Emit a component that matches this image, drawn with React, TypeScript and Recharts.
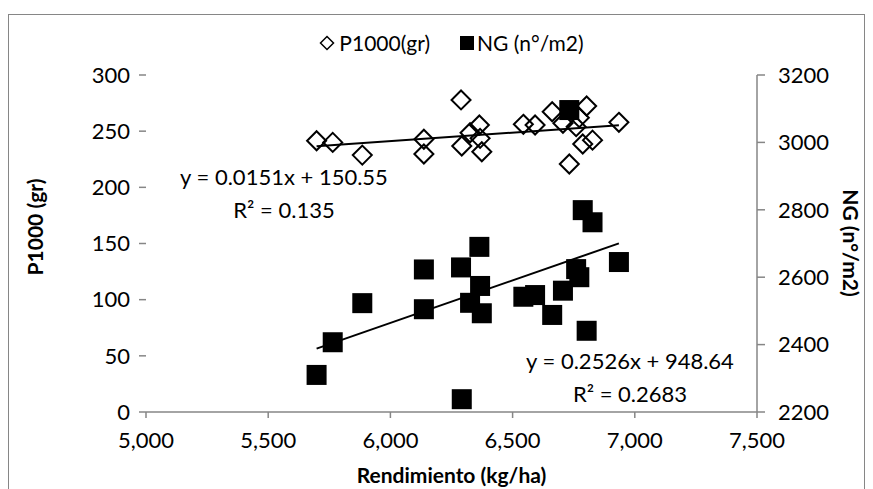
import React from 'react';
import { ScatterChart, Scatter, XAxis, YAxis, Legend, Label, Customized } from 'recharts';

const rendimiento = [5698, 5764, 5885, 6137, 6137, 6289, 6292, 6326, 6364, 6367, 6374, 6544, 6592, 6662, 6706, 6732, 6760, 6773, 6787, 6803, 6827, 6935];
const p1000 = [241.5, 240, 228.7, 242.8, 229.7, 277.8, 236.8, 248.6, 255.5, 243.6, 231.7, 256.1, 255.5, 267.3, 257, 220.8, 254, 262, 238.6, 272.4, 242, 257.9];
const ng = [2310, 2407, 2523, 2623, 2505, 2629, 2238, 2524, 2690, 2574, 2493, 2542, 2547, 2488, 2560, 3096, 2624, 2600, 2799, 2441, 2763, 2645];

const xTicks = [5000, 5500, 6000, 6500, 7000, 7500];
const leftTicks = [0, 50, 100, 150, 200, 250, 300];
const rightTicks = [2200, 2400, 2600, 2800, 3000, 3200];

const pTrend = { slope: 0.0151, intercept: 150.55, r2: '0.135' };
const ngTrend = { slope: 0.2526, intercept: 948.64, r2: '0.2683' };
const trendRange = [5698, 6935];

const pData = rendimiento.map((x, i) => ({ x, y: p1000[i] }));
const ngData = rendimiento.map((x, i) => ({ x, y: ng[i] }));
const pTrendData = trendRange.map((x) => ({ x, y: pTrend.slope * x + pTrend.intercept }));
const ngTrendData = trendRange.map((x) => ({ x, y: ngTrend.slope * x + ngTrend.intercept }));

const FONT = 'Lato, "Open Sans", sans-serif';
const AXIS_GREY = '#868686';
const TICK_FS = 22;

const Diamond = (props: any) => {
  const { cx, cy } = props;
  if (cx == null || cy == null) return <g />;
  const r = 9.5;
  return (
    <polygon
      points={`${cx},${cy - r} ${cx + r},${cy} ${cx},${cy + r} ${cx - r},${cy}`}
      fill="none"
      stroke="#000"
      strokeWidth={2}
    />
  );
};

const Square = (props: any) => {
  const { cx, cy } = props;
  if (cx == null || cy == null) return <g />;
  return <rect x={cx - 10} y={cy - 10} width={20} height={20} fill="#000" />;
};

const NoShape = () => <g />;

const LegendContent = () => (
  <div
    style={{
      display: 'flex',
      justifyContent: 'center',
      alignItems: 'center',
      fontFamily: FONT,
      fontSize: 21,
      color: '#000',
      whiteSpace: 'nowrap',
    }}
  >
    <svg width={16} height={16} style={{ marginRight: 4 }}>
      <polygon points="8,1.5 14.5,8 8,14.5 1.5,8" fill="none" stroke="#000" strokeWidth={1.5} />
    </svg>
    <span style={{ marginRight: 30 }}>P1000(gr)</span>
    <svg width={14} height={14} style={{ marginRight: 3 }}>
      <rect x={0} y={0} width={14} height={14} fill="#000" />
    </svg>
    <span>NG (n°/m2)</span>
  </div>
);

const fmtThousands = (v: number) => v.toLocaleString('en-US');

const Equations = () => (
  <g fontFamily={FONT} fontSize={22} fill="#000">
    <text x={276} y={168} textAnchor="middle" dominantBaseline="central">
      {`y = ${pTrend.slope}x + ${pTrend.intercept}`}
    </text>
    <text x={276} y={201} textAnchor="middle" dominantBaseline="central">
      {`R² = ${pTrend.r2}`}
    </text>
    <text x={622} y={352} textAnchor="middle" dominantBaseline="central">
      {`y = ${ngTrend.slope}x + ${ngTrend.intercept}`}
    </text>
    <text x={622} y={385} textAnchor="middle" dominantBaseline="central">
      {`R² = ${ngTrend.r2}`}
    </text>
  </g>
);

export default function App() {
  return (
    <div style={{ position: 'relative', width: 865, height: 481, overflow: 'hidden', background: '#fff' }}>
      <div
        style={{
          position: 'absolute',
          left: 0,
          top: 6,
          width: 857,
          height: 600,
          border: `1px solid ${AXIS_GREY}`,
          boxSizing: 'border-box',
        }}
      />
      <ScatterChart width={865} height={481} margin={{ top: 67, right: 0, bottom: 0, left: 0 }}>
        <XAxis
          type="number"
          dataKey="x"
          domain={[5000, 7500]}
          ticks={xTicks}
          tickFormatter={fmtThousands}
          axisLine={{ stroke: AXIS_GREY, strokeWidth: 1.5 }}
          tickLine={{ stroke: AXIS_GREY, strokeWidth: 1.5 }}
          tickSize={6}
          tickMargin={14}
          height={77}
          tick={{ fill: '#000', fontSize: TICK_FS, fontFamily: FONT }}
          allowDataOverflow
        >
          <Label
            content={(props: any) => {
              const vb = props.viewBox || {};
              return (
                <text
                  x={vb.x + vb.width / 2}
                  y={vb.y + 62}
                  textAnchor="middle"
                  dominantBaseline="central"
                  fontFamily={FONT}
                  fontSize={21}
                  fontWeight="bold"
                  fill="#000"
                >
                  Rendimiento (kg/ha)
                </text>
              );
            }}
          />
        </XAxis>
        <YAxis
          yAxisId="left"
          type="number"
          dataKey="y"
          domain={[0, 300]}
          ticks={leftTicks}
          width={138}
          axisLine={false}
          tickLine={{ stroke: AXIS_GREY, strokeWidth: 1.5 }}
          tickSize={7}
          tickMargin={9}
          tick={{ fill: '#000', fontSize: TICK_FS, fontFamily: FONT }}
          allowDataOverflow
        >
          <Label
            content={() => {
              const cx = 26;
              const cy = 219;
              return (
                <text
                  x={cx}
                  y={cy}
                  transform={`rotate(-90 ${cx} ${cy})`}
                  textAnchor="middle"
                  dominantBaseline="central"
                  fontFamily={FONT}
                  fontSize={21}
                  fontWeight="bold"
                  fill="#000"
                >
                  P1000 (gr)
                </text>
              );
            }}
          />
        </YAxis>
        <YAxis
          yAxisId="right"
          orientation="right"
          type="number"
          dataKey="y"
          domain={[2200, 3200]}
          ticks={rightTicks}
          width={116}
          axisLine={{ stroke: AXIS_GREY, strokeWidth: 1.5 }}
          tickLine={{ stroke: AXIS_GREY, strokeWidth: 1.5 }}
          tickSize={8}
          tickMargin={13}
          tick={{ fill: '#000', fontSize: TICK_FS, fontFamily: FONT }}
          allowDataOverflow
        >
          <Label
            content={() => {
              const cx = 843;
              const cy = 235;
              return (
                <text
                  x={cx}
                  y={cy}
                  transform={`rotate(90 ${cx} ${cy})`}
                  textAnchor="middle"
                  dominantBaseline="central"
                  fontFamily={FONT}
                  fontSize={21}
                  fontWeight="bold"
                  fill="#000"
                >
                  NG (n°/m2)
                </text>
              );
            }}
          />
        </YAxis>
        <Legend
          verticalAlign="middle"
          align="center"
          layout="horizontal"
          content={LegendContent}
          wrapperStyle={{ top: 22, left: 11, width: 865, height: 26 }}
        />
        <Scatter
          name="P1000(gr)"
          yAxisId="left"
          data={pData}
          shape={Diamond}
          isAnimationActive={false}
        />
        <Scatter
          name="NG (n°/m2)"
          yAxisId="right"
          data={ngData}
          shape={Square}
          isAnimationActive={false}
        />
        <Scatter
          yAxisId="left"
          data={pTrendData}
          line={{ stroke: '#000', strokeWidth: 2 }}
          shape={NoShape}
          legendType="none"
          isAnimationActive={false}
        />
        <Scatter
          yAxisId="right"
          data={ngTrendData}
          line={{ stroke: '#000', strokeWidth: 2 }}
          shape={NoShape}
          legendType="none"
          isAnimationActive={false}
        />
        <Customized component={Equations} />
      </ScatterChart>
    </div>
  );
}
